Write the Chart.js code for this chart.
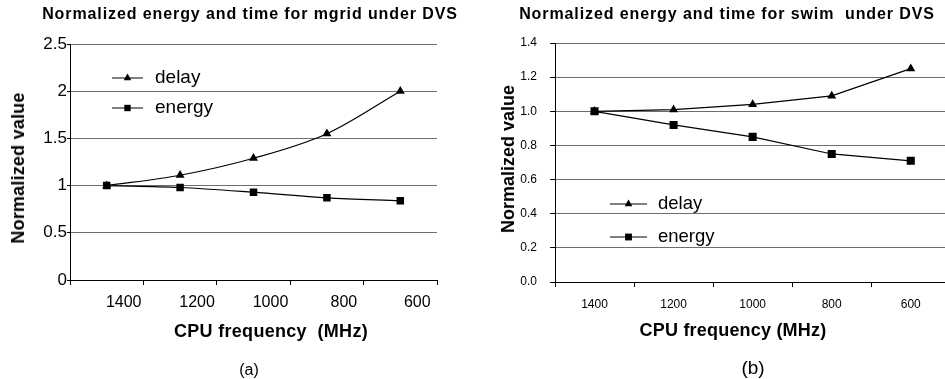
<!DOCTYPE html>
<html>
<head>
<meta charset="utf-8">
<script src="https://cdn.jsdelivr.net/npm/chart.js@4/dist/chart.umd.min.js"></script>
<style>
  body { margin: 0; width: 945px; height: 379px; overflow: hidden; background: #fff; position: relative;
         font-family: "Liberation Sans", Arial, sans-serif; color: #000; }
  .box { position: absolute; }
  .lbl { position: absolute; line-height: 1; white-space: pre; transform: translate(-50%, -50%); }
  .b { font-weight: bold; }
  .rot { transform: translate(-50%, -50%) rotate(-90deg); }
</style>
</head>
<body>
<div class="box" style="left:0;top:0;width:470px;height:379px"><canvas id="chartA"></canvas></div>
<div class="box" style="left:470px;top:0;width:486px;height:379px"><canvas id="chartB"></canvas></div>

<div class="lbl b" style="left:250px;top:14px;font-size:16px;letter-spacing:0.9px">Normalized energy and time for mgrid under DVS</div>
<div class="lbl b" style="left:727px;top:14px;font-size:16px;letter-spacing:0.9px">Normalized energy and time for swim  under DVS</div>
<div class="lbl b rot" style="left:18px;top:168px;font-size:18px;letter-spacing:0.2px">Normalized value</div>
<div class="lbl b rot" style="left:508px;top:159px;font-size:18px">Normalized value</div>
<div class="lbl b" style="left:271px;top:331px;font-size:18px;letter-spacing:0.3px">CPU frequency  (MHz)</div>
<div class="lbl b" style="left:733px;top:330px;font-size:18px;letter-spacing:0.2px">CPU frequency (MHz)</div>
<div class="lbl" style="left:249px;top:370px;font-size:16px">(a)</div>
<div class="lbl" style="left:753px;top:367px;font-size:19px">(b)</div>

<script>
// values
const freqLabels = ['1400', '1200', '1000', '800', '600'];
const mgridDelay = [1.0, 1.11, 1.29, 1.55, 2.0];
const mgridEnergy = [1.0, 0.98, 0.93, 0.87, 0.84];
const swimDelay = [1.0, 1.01, 1.04, 1.09, 1.25];
const swimEnergy = [1.0, 0.92, 0.85, 0.75, 0.71];
const seriesNames = ['delay', 'energy'];

const FONT = '"Liberation Sans", Arial, sans-serif';

function drawMarker(ctx, style, x, y, r) {
  ctx.beginPath();
  if (style === 'triangle') {
    ctx.moveTo(x, y - r);
    ctx.lineTo(x + r * 0.866, y + r * 0.5);
    ctx.lineTo(x - r * 0.866, y + r * 0.5);
    ctx.closePath();
  } else {
    const s = r / Math.SQRT2;
    ctx.rect(x - s, y - s, 2 * s, 2 * s);
  }
  ctx.fill();
}

// legend drawn inside the plot, like the original spreadsheet chart
const insetLegend = {
  id: 'insetLegend',
  afterDatasetsDraw(chart, args, opts) {
    const ctx = chart.ctx;
    ctx.save();
    ctx.font = opts.fontSize + 'px ' + FONT;
    ctx.textBaseline = 'middle';
    ctx.fillStyle = '#000';
    ctx.strokeStyle = '#000';
    ctx.lineWidth = 1;
    chart.data.datasets.forEach((ds, i) => {
      const y = opts.y + i * opts.gap;
      ctx.beginPath();
      ctx.moveTo(opts.x, y);
      ctx.lineTo(opts.x + opts.len, y);
      ctx.stroke();
      drawMarker(ctx, ds.pointStyle, opts.x + opts.len / 2, y, ds.pointRadius * 0.85);
      ctx.fillText(ds.label, opts.textX, y);
    });
    ctx.restore();
  }
};

function makeChart(id, delay, energy, cfg) {
  const ds = (label, data, style, r) => ({
    label, data,
    borderColor: '#000', backgroundColor: '#000', borderWidth: 1.2,
    pointStyle: style, pointRadius: r, pointBorderWidth: 0,
    tension: cfg.tension, cubicInterpolationMode: cfg.smooth ? 'monotone' : 'default'
  });
  return new Chart(document.getElementById(id), {
    type: 'line',
    data: {
      labels: freqLabels,
      datasets: [
        ds(seriesNames[0], delay, 'triangle', cfg.triR),
        ds(seriesNames[1], energy, 'rect', cfg.rectR)
      ]
    },
    plugins: [insetLegend],
    options: {
      responsive: true,
      maintainAspectRatio: false,
      animation: false,
      layout: { padding: { top: cfg.top, right: cfg.right, left: 0, bottom: 0 } },
      plugins: {
        legend: { display: false },
        tooltip: { enabled: false },
        insetLegend: cfg.legend
      },
      scales: {
        x: {
          offset: true,
          grid: { offset: true, drawOnChartArea: false, tickLength: 5, tickColor: '#000' },
          border: { color: '#000', width: 1 },
          ticks: { color: '#000', font: { family: FONT, size: cfg.xFont }, padding: cfg.xPad,
                   labelOffset: cfg.labelOffset, maxRotation: 0 },
          afterFit: s => { s.height = cfg.xHeight; }
        },
        y: {
          min: 0, max: cfg.yMax,
          grid: { color: '#6e6e6e', lineWidth: 1, tickLength: cfg.yTick, tickColor: '#000' },
          border: { color: '#000', width: 1 },
          ticks: { stepSize: cfg.yStep, color: '#000', font: { family: FONT, size: cfg.yFont },
                   padding: cfg.yPad, callback: cfg.fmt },
          afterFit: s => { s.width = cfg.yWidth; }
        }
      }
    }
  });
}

makeChart('chartA', mgridDelay, mgridEnergy, {
  top: 44, right: 33, yWidth: 70, xHeight: 99,
  yMax: 2.5, yStep: 0.5, yFont: 17, yPad: 0, yTick: 3,
  xFont: 16, xPad: 8, labelOffset: 17,
  fmt: v => String(v),
  triR: 5.2, rectR: 5.3, smooth: true, tension: 0.4,
  legend: { x: 112, len: 31, textX: 155, y: 78, gap: 30, fontSize: 19 }
});

makeChart('chartB', swimDelay, swimEnergy, {
  top: 43, right: 0, yWidth: 85, xHeight: 97,
  yMax: 1.4, yStep: 0.2, yFont: 12, yPad: 13, yTick: 5,
  xFont: 12, xPad: 10, labelOffset: 0,
  fmt: v => v.toFixed(1),
  triR: 5.2, rectR: 5.7, smooth: false, tension: 0,
  legend: { x: 140, len: 37, textX: 188, y: 204, gap: 33, fontSize: 18.5 }
});
</script>
</body>
</html>
